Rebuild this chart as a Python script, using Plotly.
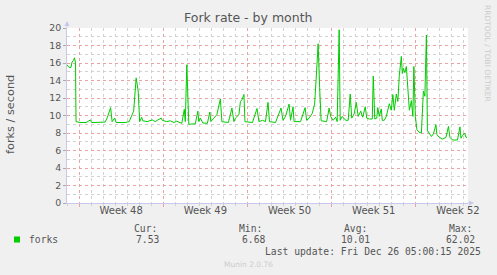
import pandas as pd
import plotly.graph_objects as go

# ---- data ----
start = "2025-11-23 00:00"
end = "2025-12-26 08:00"
hours = [0, 4, 8, 10, 13, 15, 17, 18, 26, 38, 47, 49, 56, 66, 76, 80, 87, 90, 95, 98,
         106, 116, 124, 127, 133, 138, 142, 145, 149, 151, 160, 170, 176, 180, 188, 190,
         199, 206, 213, 219, 226, 229, 234, 236, 239, 243, 256, 261, 263, 266, 271, 280,
         285, 287, 293, 299, 306, 309, 322, 329, 333, 336, 343, 346, 349, 353, 355, 370,
         379, 383, 390, 396, 401, 404, 416, 427, 431, 436, 443, 446, 451, 453, 466, 475,
         478, 483, 489, 494, 497, 501, 504, 507, 518, 523, 526, 531, 536, 539, 543, 545,
         549, 556, 561, 565, 568, 573, 577, 581, 586, 590, 595, 598, 603, 609, 611, 614,
         618, 620, 623, 627, 629, 633, 637, 643, 647, 650, 653, 657, 660, 663, 667, 669,
         671, 674, 677, 680, 683, 687, 690, 692, 695, 698, 702, 707, 709, 711, 714, 717,
         719, 722, 727, 731, 736, 738, 743, 749, 756, 761, 764, 769, 779, 784, 786, 789,
         793, 796, 798]
forks = [15.8, 15.5, 15.5, 16.1, 16.3, 16.6, 16.0, 9.3, 9.2, 9.2, 9.5, 9.2, 9.2, 9.2, 9.25, 9.7, 10.9, 9.3, 9.7, 9.2,
         9.2, 9.2, 9.3, 9.7, 10.5, 14.3, 12.8, 9.3, 9.8, 9.4, 9.3, 9.5, 9.3, 9.45, 9.7, 9.45,
         9.3, 9.4, 9.2, 9.35, 9.2, 9.1, 10.7, 9.3, 15.8, 9.0, 9.05, 10.5, 9.3, 9.7, 9.15, 9.1,
         10.4, 9.3, 9.7, 10.1, 11.9, 9.3, 9.2, 10.85, 9.3, 9.7, 10.1, 11.6, 11.8, 12.4, 9.3, 9.2,
         10.8, 9.3, 9.45, 9.3, 11.5, 9.3, 9.2, 10.85, 9.45, 9.9, 11.3, 9.45, 11.0, 9.3, 9.3, 10.9,
         9.45, 9.7, 10.2, 11.3, 14.1, 18.2, 13.2, 9.4, 9.3, 10.85, 9.9, 9.45, 9.8, 9.3, 19.8, 9.45,
         9.9, 9.45, 9.45, 12.45, 9.7, 10.2, 11.5, 9.9, 10.5, 9.8, 11.0, 9.7, 9.6, 9.6, 14.5, 9.6,
         9.7, 10.9, 9.9, 10.75, 9.45, 9.45, 9.9, 11.35, 10.6, 12.4, 10.6, 12.45, 11.6, 14.6, 16.75, 14.8,
         15.4, 14.9, 15.6, 12.8, 10.6, 11.7, 9.9, 15.6, 9.9, 8.4, 8.1, 8.0, 10.5, 12.8, 12.2, 19.2,
         8.3, 8.0, 7.6, 7.9, 8.95, 7.8, 7.5, 7.3, 7.5, 8.75, 7.5, 7.2, 7.2, 8.7, 7.4, 7.7,
         8.0, 7.5, 7.53]
week_labels = ["Week 48", "Week 49", "Week 50", "Week 51", "Week 52"]
week_centers = ["2025-11-27 12:00", "2025-12-04 12:00", "2025-12-11 12:00",
                "2025-12-18 12:00", "2025-12-25 12:00"]
stat_names = ["Cur:", "Min:", "Avg:", "Max:"]
stat_values = ["7.53", "6.68", "10.01", "62.02"]
series_name = "forks"
title = "Fork rate - by month"
y_title = "forks / second"
last_update = "Last update: Fri Dec 26 05:00:15 2025"
footer = "Munin 2.0.76"
side_text = "RRDTOOL / TOBI OETIKER"

times = pd.Timestamp(start) + pd.to_timedelta(hours, unit="h")

# ---- layout geometry ----
W, H = 497, 275
L, R, T, B = 67, 468, 28, 203
PW, PH = R - L, B - T


def px(x):
    return (x - L) / PW


def py(y):
    return (B - y) / PH


GREEN = "#00cc00"
MAJ = "#e9a3a3"
MIN = "#d2d2d2"
AXIS = "#c8c8ec"
TXT = "#555555"
SANS = "DejaVu Sans"
MONO = "DejaVu Sans Mono"

fig = go.Figure()
fig.add_trace(go.Scatter(x=times, y=forks, mode="lines",
                         line=dict(color=GREEN, width=1), showlegend=False,
                         hoverinfo="skip"))
fig.add_trace(go.Scatter(x=[pd.Timestamp(start)], y=[None], xaxis="x2",
                         mode="lines", showlegend=False, hoverinfo="skip"))

fig.update_layout(
    width=W, height=H,
    margin=dict(l=L, r=W - R, t=T, b=H - B, pad=0),
    paper_bgcolor="#f0f0f0", plot_bgcolor="#ffffff",
    showlegend=False,
    xaxis=dict(type="date", range=[start, end], showticklabels=False,
               showgrid=True, gridcolor=MAJ, griddash="dot", gridwidth=1,
               tick0="2025-11-24", dtick=7 * 86400000,
               ticks="outside", ticklen=3, tickcolor=MAJ,
               showline=True, linecolor=AXIS, linewidth=1, zeroline=False,
               minor=dict(dtick=86400000, tick0="2025-11-24", showgrid=True,
                          gridcolor=MIN, griddash="dot", gridwidth=1,
                          ticks="outside", ticklen=2, tickcolor=MIN)),
    xaxis2=dict(type="date", range=[start, end], overlaying="x", anchor="y",
                side="bottom", tickmode="array", tickvals=week_centers,
                ticktext=week_labels, showgrid=False, ticks="", showline=False,
                zeroline=False, tickfont=dict(family=SANS, size=10, color=TXT)),
    yaxis=dict(range=[0, 20], dtick=2, tick0=0, showgrid=True, gridcolor=MAJ,
               griddash="dot", gridwidth=1, ticks="outside", ticklen=3,
               tickcolor="#aaaaaa", showline=True, linecolor=AXIS, linewidth=1,
               zeroline=False, tickfont=dict(family=SANS, size=9.4, color=TXT),
               minor=dict(dtick=1, showgrid=True, gridcolor=MIN, griddash="dot",
                          gridwidth=1)),
)

ann = []


def text(x, y, s, size, color=TXT, family=SANS, xanchor="left", angle=0):
    ann.append(dict(x=px(x), y=py(y), xref="paper", yref="paper", text=s,
                    showarrow=False, xanchor=xanchor, yanchor="middle",
                    textangle=angle,
                    font=dict(family=family, size=size, color=color)))


text(248, 18, title, 12.5, xanchor="center")
text(10, 115, y_title, 11.3, xanchor="center", angle=-90)
text(488, 53, side_text, 7.5, color="#cccccc", xanchor="center", angle=90)

stat_x = [131.7, 236.7, 341.7, 446.7]
val_right = [160.7, 266.7, 371.7, 476.7]
for sx, vr, n, v in zip(stat_x, val_right, stat_names, stat_values):
    text(sx, 228, n, 9.7, family=MONO)
    text(vr, 239.5, v, 9.7, family=MONO, xanchor="right")
text(26.5, 239.5, series_name, 9.7, family=MONO)
text(483, 251, last_update, 9.7, family=MONO, xanchor="right")
text(248, 264.5, footer, 7.5, color="#cccccc", xanchor="center")

# axis arrows
ann.append(dict(x=0, y=py(21), xref="paper", yref="paper", ax=0, ay=8,
                axref="pixel", ayref="pixel", showarrow=True, arrowhead=2,
                arrowsize=1, arrowwidth=1, arrowcolor=AXIS, text=""))
ann.append(dict(x=px(474), y=0, xref="paper", yref="paper", ax=-8, ay=0,
                showarrow=True, arrowhead=2, arrowsize=1, arrowwidth=1,
                arrowcolor=AXIS, text=""))
fig.update_layout(annotations=ann)

fig.add_shape(type="rect", xref="paper", yref="paper",
              x0=px(14), x1=px(20), y0=py(242.5), y1=py(236.5),
              fillcolor=GREEN, line=dict(width=0))

fig.write_html("out.html")
